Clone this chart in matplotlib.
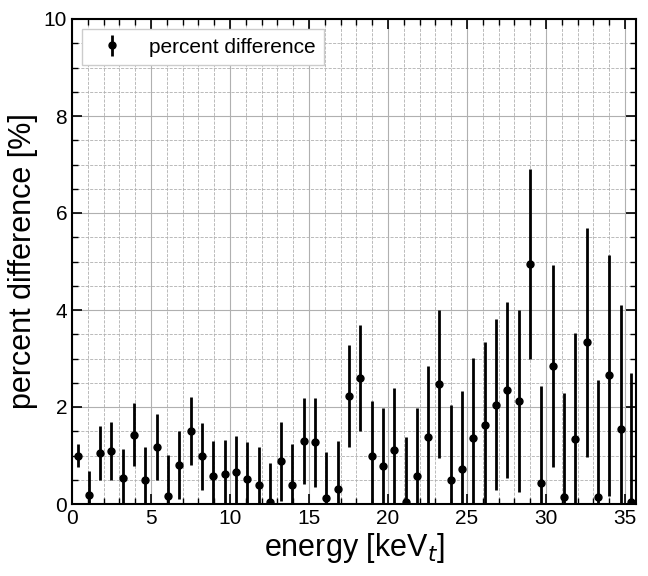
import numpy as np
import matplotlib
matplotlib.use("Agg")
import matplotlib.pyplot as plt
from matplotlib.ticker import MultipleLocator

plt.rcParams['font.family'] = ['Liberation Sans', 'DejaVu Sans']

energy = [0.35, 1.07, 1.78, 2.5, 3.21, 3.93, 4.65, 5.36, 6.08, 6.79,
          7.51, 8.23, 8.94, 9.66, 10.37, 11.09, 11.81, 12.52, 13.24, 13.95,
          14.67, 15.39, 16.1, 16.82, 17.53, 18.25, 18.97, 19.68, 20.4, 21.11,
          21.83, 22.55, 23.26, 23.98, 24.69, 25.41, 26.13, 26.84, 27.56, 28.27,
          28.99, 29.71, 30.42, 31.14, 31.85, 32.57, 33.29, 34.0, 34.72, 35.37]
pdiff = [1.0, 0.19, 1.05, 1.1, 0.53, 1.43, 0.5, 1.18, 0.17, 0.8,
         1.5, 0.98, 0.58, 0.62, 0.65, 0.52, 0.4, 0.05, 0.88, 0.4,
         1.3, 1.27, 0.12, 0.3, 2.22, 2.6, 0.98, 0.78, 1.12, 0.05,
         0.57, 1.38, 2.47, 0.5, 0.72, 1.37, 1.63, 2.05, 2.35, 2.13,
         4.95, 0.43, 2.85, 0.14, 1.35, 3.33, 0.15, 2.65, 1.55, 0.04]
perr = [0.23, 0.5, 0.55, 0.6, 0.6, 0.65, 0.68, 0.68, 0.85, 0.7,
        0.7, 0.7, 0.72, 0.7, 0.75, 0.75, 0.78, 0.8, 0.82, 0.83,
        0.88, 0.92, 0.95, 1.0, 1.05, 1.1, 1.15, 1.2, 1.27, 1.33,
        1.4, 1.47, 1.52, 1.55, 1.6, 1.65, 1.7, 1.77, 1.82, 1.88,
        1.95, 2.0, 2.08, 2.15, 2.18, 2.36, 2.4, 2.48, 2.55, 2.67]

fig = plt.figure(figsize=(6.48, 5.76), dpi=100)
ax = fig.add_axes([72/648, 1-504/576, 564/648, 485/576])
ax.errorbar(energy, pdiff, yerr=perr, fmt='o', color='black', ms=5,
            elinewidth=2, capsize=0, label='percent difference')
ax.set_xlim(0, 35.7)
ax.set_ylim(0, 10)
ax.xaxis.set_major_locator(MultipleLocator(5))
ax.xaxis.set_minor_locator(MultipleLocator(1))
ax.yaxis.set_major_locator(MultipleLocator(2))
ax.yaxis.set_minor_locator(MultipleLocator(0.5))
ax.grid(which='major', color='#b0b0b0', lw=0.8)
ax.grid(which='minor', color='#b0b0b0', lw=0.6, ls='--')
ax.set_axisbelow(True)
ax.tick_params(which='both', direction='in', top=True, right=True, labelsize=15)
ax.tick_params(which='major', length=7, width=1.2)
ax.tick_params(which='minor', length=4, width=1)
for s in ax.spines.values():
    s.set_linewidth(1.5)
ax.set_xlabel('energy [keV$_t$]', fontsize=22, labelpad=2)
ax.set_ylabel('percent difference [%]', fontsize=22)
ax.legend(loc='upper left', fontsize=15, fancybox=False, framealpha=1)
fig.savefig('out.png', dpi=100)
